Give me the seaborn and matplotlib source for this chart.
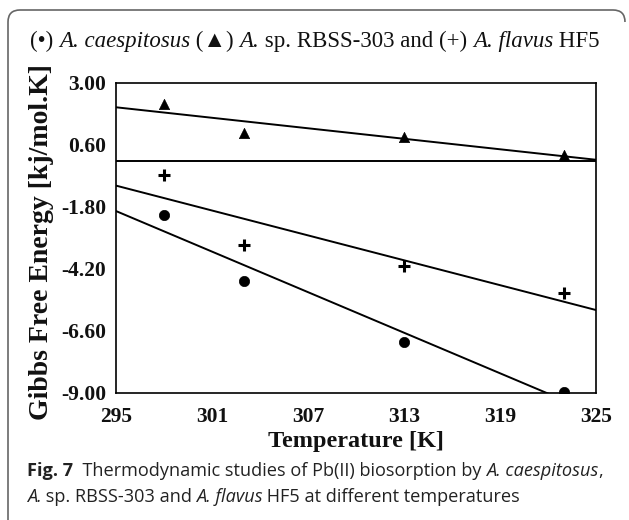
import numpy as np
import pandas as pd
import seaborn as sns
import matplotlib
matplotlib.use("Agg")
import matplotlib.pyplot as plt
from matplotlib.path import Path
from matplotlib.patches import PathPatch

# ---- data ----
temperature = [298, 303, 313, 323]
caespitosus = [-2.10, -4.68, -7.01, -8.95]
rbss303 = [2.20, 1.05, 0.92, 0.21]
flavus = [-0.56, -3.27, -4.07, -5.14]
x_ticks = [295, 301, 307, 313, 319, 325]
y_ticks = [3.00, 0.60, -1.80, -4.20, -6.60, -9.00]

sns.set_theme(style="white")
SERIF = ["Liberation Serif", "DejaVu Serif"]
SANS = ["Open Sans", "DejaVu Sans"]
plt.rcParams["font.family"] = SERIF

W, H = 629, 520
fig = plt.figure(figsize=(W / 100, H / 100), dpi=100)
ax = fig.add_axes([116 / W, 1 - 393 / H, 480 / W, 310 / H])
ax.set_xlim(295, 325)
ax.set_ylim(-9.0, 3.0)

series = [(caespitosus, "o", 55), (rbss303, "^", 55), (flavus, "+", 80)]
for vals, mk, sz in series:
    df = pd.DataFrame({"T": temperature, "G": vals})
    if mk == "+":
        sk = dict(s=sz, color="black", linewidths=2.2, alpha=1, zorder=3)
    else:
        sk = dict(s=sz, color="black", edgecolor="black", linewidths=0.5, alpha=1, zorder=3)
    sns.regplot(data=df, x="T", y="G", ax=ax, ci=None, truncate=False, marker=mk,
                scatter_kws=sk, line_kws=dict(color="black", lw=1.4))
ax.set_xlim(295, 325)
ax.set_ylim(-9.0, 3.0)
ax.axhline(0, color="black", lw=1.4)

for s in ax.spines.values():
    s.set_visible(True)
    s.set_color("black")
    s.set_linewidth(1.2)
ax.set_xticks(x_ticks)
ax.set_yticks(y_ticks)
ax.set_xticklabels([str(t) for t in x_ticks])
ax.set_yticklabels([f"{v:.2f}" for v in y_ticks])
ax.tick_params(axis="both", direction="in", length=5, width=1, color="#444444",
               labelsize=15.5)
ax.tick_params(axis="x", pad=10)
ax.tick_params(axis="y", pad=7)
for lbl in ax.get_xticklabels() + ax.get_yticklabels():
    lbl.set_fontweight("bold")
    lbl.set_family(SERIF)
    lbl.set_color("#111111")
ax.set_xlabel("Temperature [K]", fontsize=17.5, fontweight="bold", color="#111111")
ax.set_ylabel("Gibbs Free Energy [kj/mol.K]", fontsize=20, fontweight="bold", color="#111111")
ax.xaxis.set_label_coords((356 - 116) / 480, -(441 - 393) / 310)
ax.yaxis.set_label_coords((42 - 116) / 480, (393 - 242) / 310)
ax.xaxis.label.set_va("center")
ax.yaxis.label.set_va("center")

# ---- frame ----
r = 12
verts = [(8, H), (8, 10 + r), (8, 10), (8 + r, 10), (W - r - 4, 10), (W - 4, 10), (W - 4, 10 + r)]
codes = [Path.MOVETO, Path.LINETO, Path.CURVE3, Path.CURVE3, Path.LINETO, Path.CURVE3, Path.CURVE3]
verts = [(x / W, 1 - y / H) for x, y in verts]
fig.patches.append(PathPatch(Path(verts, codes), transform=fig.transFigure,
                             fill=False, edgecolor="#666666", lw=1.2))

# ---- rich text helper ----
fig.canvas.draw()
renderer = fig.canvas.get_renderer()


def rich(x_px, y_px, segments, size, family, color="#111111"):
    x = x_px
    for txt, style, weight, trim in segments:
        t = fig.text(x / W, 1 - y_px / H, txt, fontsize=size, family=family,
                     style=style, weight=weight, va="baseline", ha="left", color=color)
        bb = t.get_window_extent(renderer=renderer)
        x += bb.width - trim


rich(30, 47, [("(\u2022) ", "normal", "normal", 0),
              ("A. caespitosus", "italic", "normal", 0),
              (" (\u25B2) ", "normal", "normal", 0),
              ("A.", "italic", "normal", 0),
              (" sp. RBSS-303 and (+) ", "normal", "normal", 0),
              ("A. flavus", "italic", "normal", 0),
              (" HF5", "normal", "normal", 0)], 16.5, SERIF)

rich(27, 476, [("Fig. 7", "normal", "bold", 0),
               ("  Thermodynamic studies of Pb(II) biosorption by ", "normal", "normal", 0),
               ("A. caespitosus", "italic", "normal", 0),
               (",", "normal", "normal", 0)], 13.1, SANS, "#222222")
rich(27, 502, [("A.", "italic", "normal", 1),
               (" sp. RBSS-303 and ", "normal", "normal", 0),
               ("A. flavus", "italic", "normal", 1),
               (" HF5 at different temperatures", "normal", "normal", 0)], 13.1, SANS, "#222222")

fig.savefig("out.png", dpi=100)
